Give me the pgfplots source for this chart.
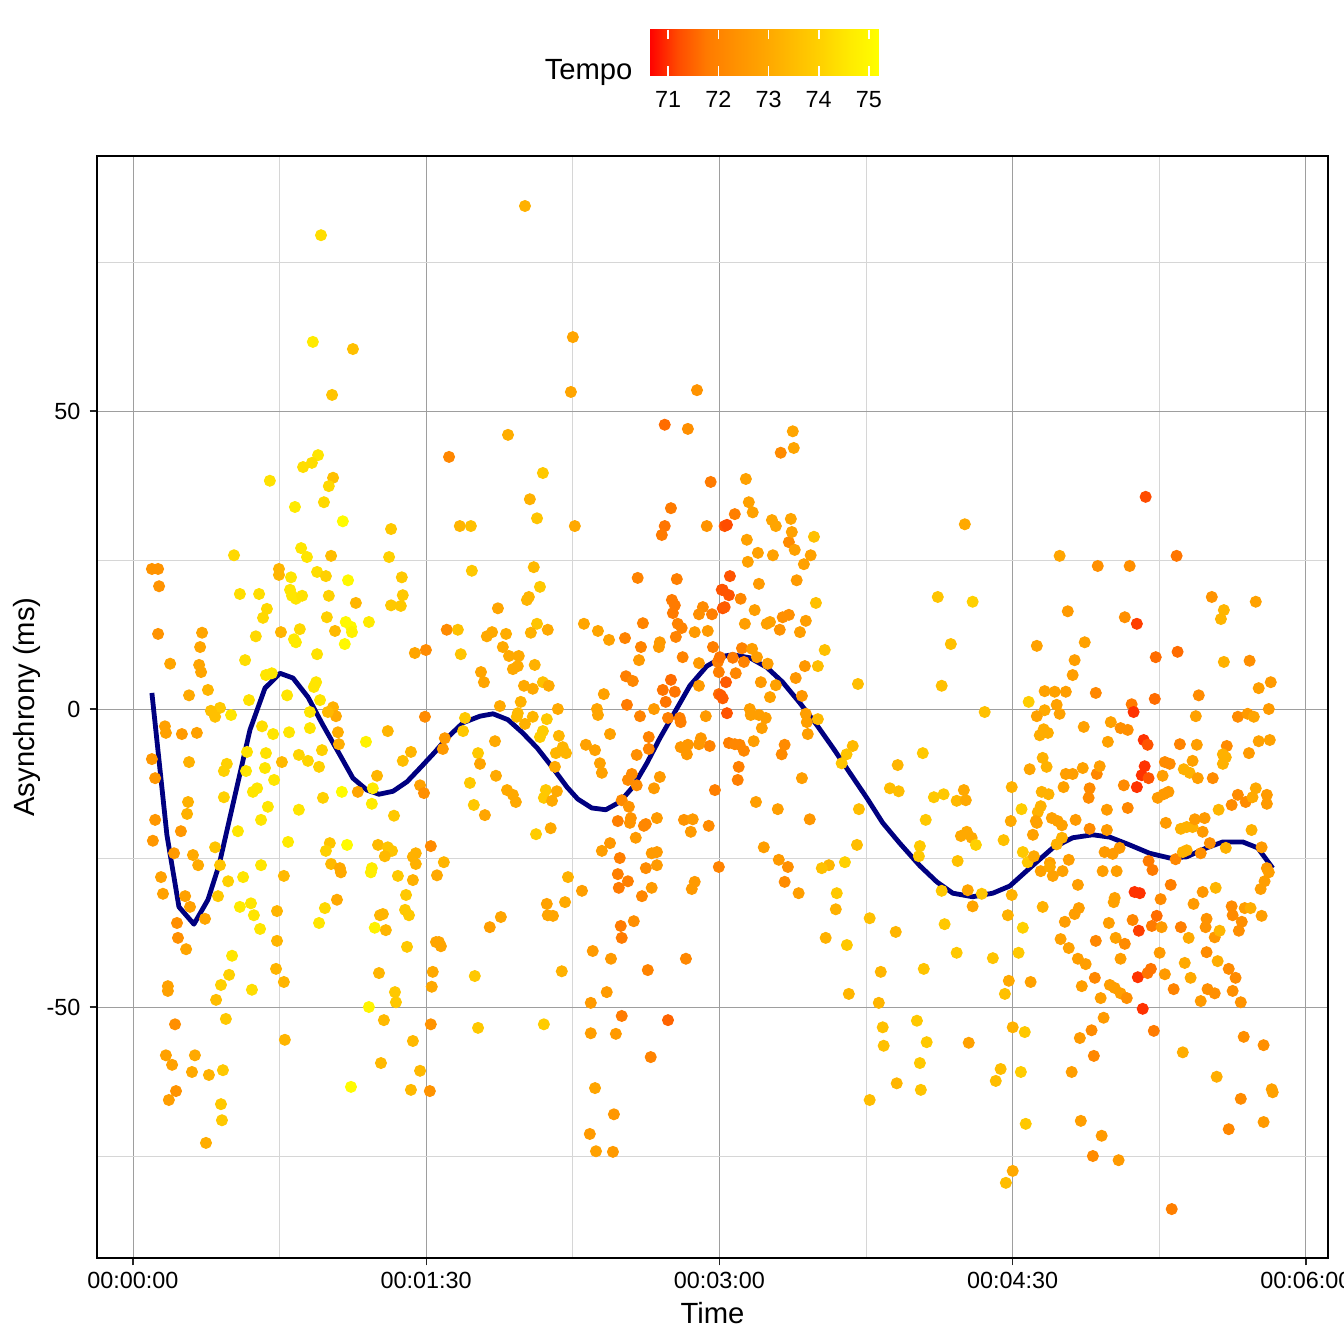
\documentclass[border=0pt]{standalone}
\usepackage{pgfplots}
\usepackage{pgfplotstable}
\pgfplotsset{compat=1.18}
\usetikzlibrary{calc}
\usepackage{fontspec}
\setmainfont{Liberation Sans}
\definecolor{navyline}{RGB}{0,0,128}

\pgfplotstableread{
x y t
57.7 79.5 74.3
55.2 61.6 74.6
67.5 60.4 73.6
61.1 52.7 73.7
56.8 42.6 74.5
54.9 41.3 74.3
52.2 40.6 74.3
42.0 38.3 74.4
61.4 38.8 73.6
60.1 37.4 74.2
58.6 34.7 74.2
49.7 33.9 74.6
64.4 31.5 75.1
79.2 30.2 73.8
120.3 84.4 73.2
135.0 62.4 72.9
134.4 53.2 72.9
173.1 53.5 72.4
163.2 47.7 71.6
170.3 47.0 72.3
115.1 46.0 73.1
97.0 42.3 72.1
125.8 39.6 73.8
121.8 35.2 73.2
177.3 38.1 71.8
165.1 33.7 71.8
124.0 32.0 73.7
100.3 30.7 73.3
103.7 30.7 73.6
135.6 30.7 73.0
163.2 30.7 71.7
176.1 30.7 72.4
181.6 30.7 71.3
202.5 46.6 72.9
202.8 43.8 72.9
198.8 43.0 72.2
188.1 38.6 72.8
189.0 34.7 72.8
190.2 33.0 72.8
184.7 32.7 71.9
182.3 30.9 71.2
196.1 31.7 72.9
201.9 31.9 72.9
197.3 30.7 72.9
255.3 31.0 73.0
310.8 35.6 71.2
31.0 25.8 74.2
51.6 27.0 74.5
53.4 25.5 74.5
60.8 25.7 73.5
78.6 25.5 74.0
5.8 23.5 72.4
7.7 23.5 72.4
8.0 20.6 72.4
44.8 23.5 73.3
44.8 22.5 73.3
48.5 22.1 74.5
56.5 23.0 74.3
59.2 22.3 74.0
66.0 21.6 75.0
82.5 22.1 73.8
32.8 19.3 74.3
38.7 19.3 74.3
48.2 20.0 74.5
48.8 19.0 74.5
50.0 18.5 74.5
51.9 19.0 74.4
60.1 19.0 74.0
82.8 19.1 73.8
68.4 17.8 73.3
79.2 17.4 73.8
82.2 17.3 73.8
41.1 16.8 74.2
39.9 15.3 74.2
59.5 15.4 74.0
65.3 14.6 75.0
66.9 13.8 75.0
67.2 12.9 74.8
72.4 14.6 74.6
62.0 13.1 73.4
7.7 12.6 72.4
21.2 12.8 72.9
45.4 12.9 73.3
51.2 13.4 74.2
37.7 12.2 74.2
49.4 11.7 74.6
50.0 11.2 74.6
65.0 10.9 75.0
20.6 10.4 72.9
56.5 9.2 74.4
86.5 9.4 72.9
89.9 9.9 72.2
11.4 7.6 72.9
34.4 8.2 74.3
20.3 7.4 72.9
20.9 6.2 72.9
40.8 5.7 74.5
42.6 6.0 74.5
56.2 4.5 74.5
55.5 3.7 74.5
23.0 3.2 73.3
17.2 2.3 73.0
47.3 2.3 74.5
35.6 1.5 74.4
57.4 1.5 74.5
26.7 0.2 73.8
23.9 -0.3 73.6
25.2 -1.3 73.6
30.1 -1.0 74.5
61.4 0.3 73.2
62.3 -1.2 73.0
59.8 -0.5 73.4
54.3 -0.5 74.5
89.6 -1.3 72.2
9.8 -2.9 72.8
10.1 -4.0 72.8
15.0 -4.2 72.6
19.6 -4.0 72.8
39.6 -2.9 74.3
43.0 -4.2 74.5
47.9 -3.9 74.5
54.3 -3.2 74.5
62.9 -3.9 73.1
63.2 -5.9 73.1
71.5 -5.5 74.8
78.2 -3.7 73.3
5.8 -8.4 72.5
17.2 -8.9 73.2
35.0 -7.2 74.4
40.8 -7.4 74.4
50.9 -7.7 74.1
53.7 -8.7 74.1
58.0 -6.9 74.0
45.7 -8.9 73.4
28.8 -9.2 74.0
27.9 -10.4 74.0
34.7 -10.4 74.5
40.5 -9.9 74.5
57.1 -9.7 74.0
85.3 -7.2 73.3
82.8 -8.7 73.5
6.8 -11.6 72.5
74.9 -11.2 73.3
43.3 -11.9 74.5
38.1 -13.3 74.5
36.8 -13.9 74.5
64.1 -13.9 75.1
69.0 -13.9 72.9
73.6 -13.3 74.6
73.3 -15.9 74.6
88.1 -12.8 72.8
89.3 -14.1 72.3
16.9 -15.6 73.2
16.6 -17.6 73.2
27.9 -14.8 74.0
41.4 -16.4 74.5
58.3 -14.9 74.0
50.9 -16.9 74.5
80.1 -17.9 73.8
6.8 -18.6 72.5
14.7 -20.5 72.5
32.2 -20.5 74.5
39.3 -18.6 74.5
6.1 -22.1 72.5
47.6 -22.3 74.6
12.6 -24.2 72.6
18.4 -24.5 73.0
25.2 -23.2 73.7
20.0 -26.2 73.0
26.7 -26.2 73.7
39.3 -26.2 74.5
60.4 -22.5 73.7
59.2 -23.8 74.0
65.7 -22.8 75.1
75.2 -22.8 73.4
78.2 -23.2 73.7
79.5 -23.8 73.7
77.3 -24.7 73.4
86.8 -24.2 73.2
85.9 -24.8 73.2
86.8 -26.0 73.2
91.4 -23.0 72.2
60.8 -26.0 73.4
63.5 -26.7 73.0
73.3 -26.7 74.6
8.6 -28.2 72.8
29.2 -28.9 74.0
33.8 -28.2 74.5
46.3 -28.0 73.4
9.2 -31.0 72.8
16.0 -31.4 72.8
17.5 -33.2 72.8
26.1 -31.4 73.8
32.8 -33.2 74.6
36.2 -32.6 74.5
37.1 -34.6 74.5
22.1 -35.2 72.9
13.5 -35.9 72.3
39.0 -36.9 74.5
44.2 -33.9 73.3
13.8 -38.4 72.3
16.3 -40.3 72.9
44.2 -38.9 73.3
30.4 -41.4 74.5
29.5 -44.6 74.0
27.0 -46.3 74.0
10.7 -46.5 72.8
10.7 -47.3 72.8
36.5 -47.1 74.3
43.9 -43.6 73.3
46.3 -45.8 73.3
25.5 -48.8 73.5
28.5 -52.0 73.8
12.9 -52.9 72.3
46.6 -55.5 73.3
10.1 -58.1 72.8
12.0 -59.7 72.8
19.0 -58.1 73.0
18.1 -60.9 73.0
23.3 -61.4 73.2
27.6 -60.6 73.8
13.2 -64.1 72.4
11.0 -65.6 72.7
27.0 -66.3 73.8
27.3 -69.0 73.8
22.4 -72.8 73.1
63.8 -27.4 73.0
73.0 -27.4 74.7
81.3 -28.0 73.8
85.9 -28.7 73.2
62.6 -32.0 73.0
58.9 -33.4 74.2
57.1 -35.9 74.5
75.8 -34.6 73.3
76.7 -34.4 73.3
74.2 -36.7 74.8
77.6 -37.1 73.3
83.8 -31.2 73.8
83.5 -33.7 73.8
84.7 -34.6 73.8
84.1 -39.9 73.8
75.5 -44.3 73.3
80.4 -47.5 73.8
80.7 -49.2 73.8
72.4 -50.0 74.9
77.0 -52.2 73.4
85.9 -55.7 73.4
76.1 -59.4 73.4
88.1 -60.7 73.4
66.9 -63.4 75.1
85.3 -63.9 73.4
91.4 -52.9 72.4
91.1 -64.1 72.4
92.0 -44.1 73.0
91.7 -46.6 73.0
93.0 -39.1 72.9
162.3 29.2 71.8
123.0 23.8 73.4
104.0 23.2 73.8
124.9 20.5 73.8
120.9 18.3 73.3
121.5 18.8 73.3
112.0 16.9 72.9
154.9 22.0 72.0
166.9 21.8 71.9
165.4 18.3 71.8
166.3 17.4 71.8
165.7 16.1 71.8
174.9 17.1 72.2
173.7 15.9 72.3
177.7 15.9 71.9
180.7 20.0 71.3
181.0 16.9 71.3
96.3 13.3 72.2
99.7 13.3 73.6
110.2 12.9 73.0
108.6 12.2 73.0
114.5 12.6 73.1
124.0 14.3 73.7
122.1 12.8 73.2
127.3 13.3 73.0
138.4 14.3 72.9
142.7 13.1 72.9
146.1 11.6 72.8
151.0 11.9 72.0
156.5 14.4 72.0
167.2 14.3 72.0
168.4 13.6 72.0
166.6 12.1 72.0
172.4 12.9 72.6
176.4 13.1 72.6
100.6 9.2 73.7
113.5 10.4 73.0
115.4 8.9 73.0
118.4 8.9 73.0
116.6 6.7 73.0
118.1 7.2 73.0
123.3 7.4 73.2
106.8 6.2 72.9
107.7 4.5 72.9
125.8 4.5 73.6
127.6 3.9 73.0
120.0 3.9 73.0
122.7 3.4 73.0
119.0 1.2 73.2
112.6 0.5 73.0
130.4 0.0 73.0
155.3 8.2 72.6
155.9 10.4 72.0
161.7 11.2 72.6
161.4 10.4 72.6
168.7 8.7 72.0
178.0 10.4 71.9
179.5 7.9 71.9
179.8 6.2 71.9
173.7 7.7 72.6
151.3 5.5 71.9
153.4 4.7 72.1
165.1 4.9 71.6
162.6 3.2 71.7
163.5 1.2 71.7
166.3 2.9 71.7
173.7 3.9 72.6
179.8 2.5 71.6
144.5 2.5 72.8
151.6 0.7 71.8
159.9 0.0 72.6
142.4 0.0 72.9
142.7 -1.0 72.9
155.6 -1.2 72.0
164.2 -1.5 71.9
167.8 -1.5 71.9
168.1 -2.2 71.9
175.8 -1.2 72.6
101.9 -1.5 73.8
118.1 -0.7 73.4
120.3 -2.5 73.2
117.8 -1.3 73.4
122.7 -1.3 73.3
127.0 -1.7 73.8
101.3 -3.7 73.8
95.7 -4.9 72.6
95.1 -6.7 72.6
111.1 -5.4 73.0
124.9 -4.7 73.9
125.8 -3.7 73.9
130.7 -4.5 73.3
131.9 -6.4 73.3
132.9 -7.4 73.3
129.8 -7.4 73.3
146.4 -4.2 72.8
139.0 -6.0 72.8
141.8 -6.9 72.8
158.3 -4.7 72.0
158.3 -6.7 72.0
154.6 -7.7 72.3
168.1 -6.4 72.5
170.3 -6.0 72.5
170.0 -7.6 72.5
174.3 -4.9 72.5
177.0 -6.2 72.0
173.7 -5.9 72.5
105.9 -7.4 73.8
106.5 -9.2 72.9
143.3 -9.1 72.8
143.9 -10.7 72.8
129.5 -9.7 73.0
153.1 -10.9 72.2
151.9 -11.9 72.2
154.6 -12.8 72.2
161.7 -11.4 72.6
159.9 -13.3 72.6
111.4 -11.2 73.0
103.4 -12.4 73.8
114.8 -13.6 73.0
116.6 -14.4 73.0
117.5 -15.6 73.0
126.7 -13.6 73.8
126.1 -14.9 73.8
128.6 -15.4 73.0
130.1 -13.8 73.0
104.6 -16.1 73.8
108.0 -17.8 72.9
178.6 -13.6 71.9
150.0 -15.3 72.2
152.2 -16.4 72.4
152.8 -18.3 72.4
152.5 -19.1 72.4
148.8 -18.8 71.9
157.4 -19.3 72.1
156.8 -19.6 72.1
160.8 -18.3 72.6
169.1 -18.6 72.4
171.8 -18.5 72.6
171.2 -20.6 72.6
176.7 -19.6 72.2
128.2 -20.0 73.0
123.7 -21.0 73.9
154.3 -21.6 72.6
146.4 -22.5 72.5
143.9 -23.8 72.7
149.4 -25.0 71.9
159.2 -24.2 72.6
160.8 -24.0 72.6
160.8 -26.2 72.6
157.4 -26.7 72.2
95.4 -25.7 73.3
148.8 -27.7 71.9
179.8 -26.5 72.0
93.3 -27.9 73.0
133.5 -28.2 73.2
137.8 -30.5 72.7
127.0 -32.7 72.8
127.3 -34.6 72.9
128.9 -34.7 72.9
132.6 -32.4 73.0
112.9 -34.9 72.9
109.5 -36.6 72.7
93.9 -39.1 72.9
94.5 -39.8 72.9
104.9 -44.8 73.8
131.6 -44.0 73.2
105.9 -53.5 73.8
126.1 -52.9 73.9
151.9 -28.9 71.9
149.1 -30.0 71.8
159.2 -30.0 72.6
156.2 -31.4 72.1
172.4 -29.0 72.6
171.5 -30.2 72.6
149.7 -36.4 71.8
150.0 -38.4 71.8
153.7 -35.6 72.3
141.1 -40.6 72.6
146.7 -41.9 72.6
158.0 -43.8 72.0
169.7 -41.9 72.1
145.4 -47.5 72.6
140.5 -49.3 72.6
150.0 -51.5 71.8
164.2 -52.2 71.5
140.5 -54.4 72.7
148.2 -54.5 72.6
158.9 -58.4 72.0
141.8 -63.6 72.9
147.6 -68.0 72.5
140.2 -71.3 72.6
142.1 -74.2 72.8
147.3 -74.3 72.6
188.4 28.4 72.8
191.8 26.2 72.8
196.4 25.8 72.8
188.7 24.7 72.8
201.3 28.0 72.2
203.1 26.7 72.8
208.0 25.8 72.8
205.9 24.3 72.8
202.2 29.7 72.8
209.0 28.9 73.6
183.2 22.3 71.3
192.1 21.0 72.6
203.7 21.6 72.6
181.0 20.0 71.3
182.9 19.1 71.3
181.6 17.1 71.4
186.5 18.5 72.1
190.8 16.6 72.7
209.6 17.8 73.6
187.8 14.3 72.7
194.5 14.3 72.8
195.5 14.6 72.8
198.5 13.3 72.4
199.4 15.4 72.3
201.3 15.8 72.3
204.7 12.9 72.7
206.5 14.8 72.7
212.3 9.9 73.6
186.9 10.2 72.0
190.0 10.1 72.7
191.5 8.7 72.7
180.1 8.7 71.7
184.1 8.6 71.8
187.5 7.9 72.0
194.8 7.6 72.7
206.2 7.2 72.5
210.2 7.2 73.5
185.0 6.0 72.1
182.0 4.5 71.4
180.4 2.3 71.4
181.0 1.8 71.4
192.7 4.5 72.6
197.3 4.0 72.8
203.4 5.2 72.5
222.5 4.2 73.5
195.5 2.0 72.8
205.3 2.2 72.5
182.3 -0.7 71.3
189.3 0.0 72.7
189.6 -1.0 72.7
192.1 -1.0 72.7
194.2 -1.5 72.7
193.0 -3.2 72.7
206.5 -0.8 72.7
206.8 -2.2 72.7
210.2 -1.7 73.4
207.1 -4.2 72.7
190.5 -5.4 72.7
182.9 -5.7 71.9
184.7 -5.9 72.1
186.2 -6.0 72.1
187.5 -7.0 72.1
200.0 -6.0 72.2
199.1 -7.6 72.2
220.9 -6.2 73.4
219.0 -7.6 73.7
217.5 -9.1 73.7
185.9 -9.7 71.9
185.6 -11.9 71.9
205.3 -11.6 72.7
242.4 -7.4 73.8
234.7 -9.4 73.3
261.4 -0.5 73.6
248.2 3.9 73.6
251.0 10.9 73.6
247.0 18.8 73.7
257.7 18.0 74.0
191.2 -15.6 72.7
197.9 -16.8 72.7
207.7 -18.5 72.5
222.8 -16.8 73.5
232.3 -13.3 73.5
235.0 -13.8 73.5
245.8 -14.8 73.8
248.8 -14.3 73.8
252.8 -15.4 73.4
255.0 -13.6 73.0
255.6 -15.3 73.0
269.7 -13.1 73.2
243.3 -18.6 73.8
254.1 -21.3 73.0
255.9 -20.6 73.0
257.4 -21.6 73.0
258.7 -22.8 74.0
267.2 -22.0 73.6
269.4 -18.8 73.0
193.6 -23.2 72.7
222.2 -22.8 73.5
241.5 -23.0 73.8
241.2 -24.7 73.8
198.2 -25.3 72.6
201.0 -26.5 72.3
213.6 -26.2 73.3
211.4 -26.7 73.6
218.5 -25.7 74.0
253.1 -25.5 73.6
200.0 -29.0 72.2
204.3 -30.9 72.7
216.0 -30.9 73.8
215.7 -33.6 73.2
212.6 -38.4 73.2
219.1 -39.6 73.8
226.1 -35.1 73.6
234.1 -37.4 73.3
219.7 -47.8 73.3
229.5 -44.1 73.3
228.9 -49.3 73.3
230.1 -53.4 73.6
230.4 -56.5 73.6
234.4 -62.8 73.3
226.1 -65.6 73.5
242.7 -43.6 73.7
249.1 -36.1 73.8
248.2 -30.5 73.8
252.8 -40.9 73.8
256.2 -30.4 72.9
260.5 -31.0 73.7
257.7 -33.1 72.9
263.9 -41.8 73.7
268.5 -34.6 73.2
269.7 -31.2 73.2
268.8 -45.6 73.0
267.6 -47.8 73.6
270.0 -53.4 73.2
240.6 -52.3 73.8
243.6 -55.9 73.8
241.5 -59.4 73.8
241.8 -63.9 73.7
256.5 -56.0 72.8
266.3 -60.4 73.5
264.8 -62.4 73.5
270.0 -77.5 73.0
267.9 -79.5 73.5
284.4 25.7 72.9
296.1 24.0 72.3
305.9 24.0 72.3
320.3 25.7 71.7
286.9 16.4 72.6
304.4 15.4 72.3
308.1 14.3 71.1
331.1 18.8 72.4
334.8 16.6 73.3
333.9 15.1 73.3
344.6 18.0 72.8
277.4 10.6 72.8
292.1 11.2 72.8
289.0 8.2 72.7
288.4 5.7 72.7
313.9 8.7 71.6
320.6 9.6 71.6
334.8 7.9 73.2
342.7 8.1 72.3
279.8 3.0 72.8
282.9 2.9 72.8
286.3 2.9 72.7
274.9 1.2 73.9
295.5 2.7 72.1
313.6 1.7 71.6
327.1 2.3 72.2
345.5 3.5 72.7
349.2 4.5 72.6
283.5 0.7 72.8
279.8 -0.2 73.0
277.4 -1.2 72.8
284.4 -0.8 72.8
306.5 0.8 71.8
307.1 -0.5 71.0
326.2 -1.2 72.8
339.1 -1.3 72.2
342.1 -0.8 72.6
344.0 -1.3 72.9
348.6 0.0 72.6
279.5 -3.4 73.1
280.8 -4.0 73.1
278.3 -4.4 73.1
291.8 -3.0 72.8
300.1 -2.2 72.8
303.1 -3.2 72.3
305.3 -3.5 72.3
299.2 -5.5 72.8
310.2 -5.2 71.0
311.4 -6.0 71.3
321.3 -5.9 72.0
326.5 -6.0 72.7
335.7 -6.2 72.2
334.5 -7.6 73.2
335.4 -8.1 73.2
334.5 -9.2 73.2
342.5 -7.4 72.6
345.5 -5.4 72.8
348.9 -5.2 72.8
279.2 -8.2 73.2
280.4 -9.7 73.2
275.2 -10.1 72.9
286.3 -10.9 72.7
288.4 -10.9 72.7
291.5 -9.9 72.8
295.8 -10.9 72.1
296.7 -9.6 72.7
310.5 -9.6 71.0
309.6 -11.1 71.0
311.7 -11.6 71.3
308.1 -13.1 71.0
304.1 -12.8 72.2
316.0 -11.2 72.7
316.7 -8.9 72.2
318.2 -9.2 72.2
325.2 -8.7 72.8
322.5 -10.1 73.2
324.3 -10.7 73.2
326.8 -11.6 72.7
331.4 -11.6 72.2
285.6 -13.1 72.8
293.6 -13.3 72.2
293.3 -14.9 72.2
278.9 -13.9 73.2
281.0 -14.3 73.2
314.5 -14.9 72.6
316.3 -14.3 72.6
317.8 -13.9 72.6
339.1 -14.4 72.2
337.2 -16.1 72.2
341.5 -15.6 72.2
343.6 -14.8 73.0
344.6 -13.3 73.0
348.0 -14.4 72.6
348.0 -15.9 72.6
333.2 -16.9 73.3
272.7 -16.8 73.9
277.7 -17.3 73.2
278.6 -16.3 73.2
298.9 -16.9 72.6
305.3 -16.6 72.1
277.1 -18.8 72.8
277.4 -19.1 72.8
282.0 -18.3 72.8
283.8 -18.8 72.8
285.1 -19.5 72.8
289.3 -18.6 72.6
293.6 -20.1 72.2
298.9 -20.3 72.6
317.0 -19.1 72.6
321.6 -20.1 73.2
323.4 -19.8 73.2
325.2 -19.8 73.2
325.9 -18.5 72.6
328.9 -18.3 72.6
328.3 -20.6 72.6
343.3 -20.3 73.2
276.2 -21.1 72.8
285.1 -21.6 73.2
283.5 -22.7 73.2
273.1 -24.0 73.8
274.6 -25.7 73.8
276.5 -24.7 73.0
281.4 -25.8 72.8
287.2 -25.3 72.7
298.2 -24.0 72.6
300.7 -24.3 72.6
302.8 -23.3 72.6
311.7 -25.5 71.8
320.0 -25.2 72.1
322.2 -24.0 73.2
323.4 -23.7 73.2
327.7 -24.2 72.3
330.5 -22.5 72.3
335.4 -23.3 73.2
346.4 -23.2 72.6
348.0 -26.7 72.6
278.6 -27.2 72.8
281.4 -26.5 73.0
282.3 -28.0 72.8
285.3 -27.2 72.8
297.6 -27.2 72.7
301.9 -27.2 72.7
312.9 -27.0 71.8
318.5 -29.5 71.9
328.3 -30.7 72.5
332.3 -30.0 73.3
290.0 -29.5 72.7
279.2 -33.2 73.2
290.3 -33.4 72.7
289.0 -34.4 72.7
301.3 -31.7 72.8
301.0 -32.4 72.8
307.4 -30.7 71.0
309.0 -30.9 71.0
315.4 -31.9 72.2
325.5 -32.7 72.6
337.2 -33.1 72.2
341.2 -33.4 72.7
343.0 -33.4 73.1
346.4 -34.7 72.7
346.1 -30.2 72.7
347.3 -28.9 72.7
348.6 -27.4 72.7
273.1 -36.7 74.0
286.0 -35.7 72.7
299.5 -35.9 72.7
306.8 -35.4 72.1
308.7 -37.2 71.1
312.7 -36.4 71.8
314.2 -34.7 71.6
315.7 -36.6 72.6
321.6 -36.6 71.9
329.5 -35.2 72.4
329.2 -36.6 72.4
332.0 -38.3 72.5
333.5 -37.2 73.3
337.5 -34.6 72.2
340.3 -35.7 72.3
339.4 -37.2 72.3
324.0 -38.4 73.0
284.7 -38.6 72.8
287.2 -40.1 72.8
295.5 -38.9 72.1
301.6 -38.4 72.8
304.4 -39.4 72.2
271.8 -40.9 73.8
315.1 -40.9 72.6
322.8 -42.6 73.0
329.5 -40.8 72.2
332.9 -42.3 73.1
290.0 -41.9 72.7
292.4 -42.8 72.7
303.1 -41.9 72.7
336.3 -43.6 72.2
338.4 -45.1 72.2
275.5 -45.8 72.8
295.2 -45.1 72.1
308.4 -45.0 71.0
312.4 -43.6 71.7
311.4 -44.3 71.7
316.7 -44.5 72.6
324.6 -45.1 73.0
291.2 -46.5 72.7
299.8 -46.3 72.7
301.3 -46.8 72.7
303.1 -47.7 72.7
305.0 -48.5 72.3
297.0 -48.5 72.7
319.4 -47.0 72.0
329.8 -47.0 72.3
332.0 -47.7 72.3
337.5 -47.3 72.3
327.7 -49.0 72.6
340.0 -49.2 72.4
309.9 -50.3 71.0
273.7 -54.2 73.8
297.9 -51.8 72.6
294.2 -53.9 72.2
290.6 -55.2 72.6
313.3 -54.0 71.8
340.9 -55.0 72.3
347.0 -56.4 72.3
322.2 -57.6 73.1
294.9 -58.2 72.1
288.1 -60.9 72.7
272.5 -60.9 73.9
332.6 -61.7 73.1
349.5 -63.8 72.8
349.8 -64.3 72.8
340.0 -65.4 72.2
347.0 -69.3 72.6
336.3 -70.5 72.1
274.0 -69.6 73.8
290.9 -69.1 72.7
297.3 -71.6 72.6
294.6 -75.0 72.2
302.5 -75.7 72.6
318.8 -83.9 71.9
}\pts

\begin{document}
\begin{tikzpicture}
\begin{axis}[
  scale only axis, width=461.6bp, height=413.25bp,
  xmin=-11.05, xmax=366.75, ymin=-92.11, ymax=92.79,
  axis line style={black, line width=0.6pt},
  xtick={0,90,180,270,360},
  xticklabels={00:00:00,00:01:30,00:03:00,00:04:30,00:06:00},
  minor xtick={45,135,225,315},
  ytick={-50,0,50}, yticklabels={-50,0,50},
  minor ytick={-75,-25,25,75},
  grid=both,
  major grid style={black!38, line width=0.35pt},
  minor grid style={black!16, line width=0.3pt},
  tick align=outside, major tick length=2.75pt, minor tick length=0pt,
  tick pos=left,
  tick style={black!85, line width=0.5pt},
  tick label style={font=\fontsize{8.8}{10}\selectfont, text=black},
  xticklabel style={yshift=1bp},
  xlabel={Time}, ylabel={Asynchrony (ms)},
  label style={font=\fontsize{11}{13}\selectfont},
  xlabel style={at={(axis description cs:0.5,-0.0499)}, anchor=center},
  ylabel style={at={(axis description cs:-0.0569,0.5)}, anchor=center},
  colormap={heat}{rgb255(0cm)=(255,0,0); rgb255(1cm)=(255,75,0); rgb255(2cm)=(255,122,0); rgb255(3cm)=(255,145,0); rgb255(4cm)=(255,165,0); rgb255(5cm)=(255,188,0); rgb255(6cm)=(255,210,0); rgb255(7cm)=(255,235,0); rgb255(8cm)=(255,255,0)},
  point meta min=70.62, point meta max=75.2,
  colorbar horizontal,
  colorbar/width=17.25bp,
  colorbar style={
    at={($(parent axis.south west)+(207bp,469.15bp)$)}, anchor=north west,
    scale only axis, width=86.25bp,
    xtick={71,72,73,74,75}, xticklabels={71,72,73,74,75},
    xticklabel pos=lower,
    tick align=inside, major tick length=3.45bp,
    xtick pos=both,
    tick style={white, line width=0.6pt},
    axis line style={draw=none},
    grid=none,
    tick label style={font=\fontsize{8.8}{10}\selectfont, yshift=-2.3bp},
  },
]
\addplot[scatter, only marks, mark=*, mark size=2.05bp,
  scatter/use mapped color={draw=mapped color, fill=mapped color},
  point meta=explicit]
  table[x=x, y=y, meta=t] {\pts};
\addplot[navyline, line width=1.8bp, line join=round] coordinates {
(5.8,2.7) (10.4,-21.1) (14.1,-33.2) (18.7,-36.1) (23.0,-32.0) (26.4,-26.2)
(35.9,-3.5) (40.5,3.5) (45.1,6.0) (49.1,5.2) (53.7,2.0) (58.3,-2.7)
(63.5,-7.7) (67.5,-11.6) (71.8,-13.6) (75.5,-14.3) (79.8,-13.8) (84.1,-12.2)
(88.1,-9.9) (92.7,-7.2) (96.3,-4.9) (101.3,-2.3) (106.5,-1.2) (110.5,-0.8)
(115.1,-1.8) (119.4,-3.9) (124.0,-6.5) (128.6,-9.7) (133.2,-13.1) (136.5,-15.1)
(140.8,-16.6) (145.1,-16.9) (149.4,-15.6) (153.4,-13.1) (157.7,-9.1) (161.7,-4.9)
(166.3,-0.5) (170.9,3.9) (176.1,7.2) (181.6,8.9) (184.1,9.1) (189.3,8.6)
(194.5,7.0) (199.4,4.5) (204.7,1.0) (209.9,-2.7) (214.8,-6.5) (220.0,-10.7)
(225.2,-14.9) (230.1,-19.1) (235.3,-22.5) (241.5,-26.3) (246.7,-29.0) (251.6,-30.9)
(257.7,-31.5) (263.9,-30.9) (269.1,-29.7) (275.2,-26.7) (282.3,-23.3) (288.4,-21.6)
(294.6,-21.1) (299.8,-21.5) (305.9,-22.8) (312.0,-24.2) (318.2,-25.0) (323.4,-24.8)
(329.5,-23.3) (334.5,-22.3) (340.6,-22.3) (345.2,-23.3) (349.8,-26.7)
};
\end{axis}
\node[anchor=east, inner sep=0pt, font=\fontsize{11}{13}\selectfont] at (201bp,444.75bp) {Tempo};
\pgfresetboundingbox
\path[use as bounding box] (-36.375bp,-32.25bp) rectangle (467.625bp,471.75bp);
\end{tikzpicture}
\end{document}
